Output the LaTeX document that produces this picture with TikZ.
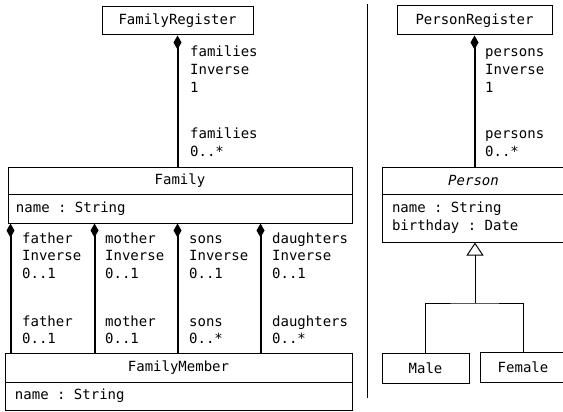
\documentclass[tikz,border=0pt]{standalone}
\usepackage{fontspec}
\setmainfont{DejaVu Sans Mono}
\usetikzlibrary{arrows.meta,calc}
\newcommand\monosp{\hspace*{0.602em}}
\begin{document}
\begin{tikzpicture}[x=1pt,y=-1pt,
  every node/.style={font=\fontsize{14}{18}\selectfont},
  box/.style={draw,line width=1pt,rectangle,inner sep=0pt,align=center},
  attr/.style={draw,line width=1pt,rectangle,inner xsep=8pt,inner ysep=0pt,align=left},
  lbl/.style={anchor=north west,inner sep=0pt,align=left},
  lbllow/.style={lbl,font=\fontsize{14}{17.5}\selectfont},
  compo/.style={line width=2pt,-{Diamond[length=14pt,width=8pt]}},
  gen/.style={line width=1pt},
  genarrow/.style={line width=1pt,-{Triangle[open,length=13pt,width=17pt]}}]
\useasboundingbox (0,0) rectangle (563,412);
\clip (0,0) rectangle (563,412);

% left part
\node[box,minimum width=151,minimum height=28] (famreg) at (177.5,21) {FamilyRegister};
\node[box,minimum width=344,minimum height=27] (fam) at (180,180.5) {Family};
\node[attr,text width=328pt,minimum height=29] (famattr) at (180,208.5) {name\monosp:\monosp String};
\node[box,minimum width=347,minimum height=29] (fm) at (178.5,367.5) {FamilyMember};
\node[attr,inner xsep=10pt,text width=327pt,minimum height=28] (fmattr) at (178.5,396) {name\monosp:\monosp String};

\draw[compo] (famreg.south |- fam.north) -- (famreg.south);
\node[lbl] (famS) at (190,43.4) {\strut families\\Inverse\\1};
\node[lbl] (famT) at (190,125.4) {\strut families\\0..*};

\coordinate (c1) at ([xshift=3pt]famattr.south west);
\coordinate (c2) at ([xshift=87pt]famattr.south west);
\coordinate (c3) at ([xshift=170pt]famattr.south west);
\coordinate (c4) at ([xshift=253pt]famattr.south west);
\draw[compo] (c1 |- fm.north) -- (c1);
\draw[compo] (c2 |- fm.north) -- (c2);
\draw[compo] (c3 |- fm.north) -- (c3);
\draw[compo] (c4 |- fm.north) -- (c4);

\node[lbllow] (faS) at (22,230.75) {\strut father\\Inverse\\0..1};
\node[lbllow] (faT) at (22,313.75) {\strut father\\0..1};
\node[lbllow] (moS) at (105,230.75) {\strut mother\\Inverse\\0..1};
\node[lbllow] (moT) at (105,313.75) {\strut mother\\0..1};
\node[lbllow] (soS) at (189,230.75) {\strut sons\\Inverse\\0..1};
\node[lbllow] (soT) at (189,313.75) {\strut sons\\0..*};
\node[lbllow] (daS) at (272,230.75) {\strut daughters\\Inverse\\0..1};
\node[lbllow] (daT) at (272,313.75) {\strut daughters\\0..*};

% separator
\draw[line width=1pt] (367,4) -- (367,398);

% right part
\node[box,minimum width=155,minimum height=29] (preg) at (474.5,20.5) {PersonRegister};
\node[box,minimum width=183,minimum height=27] (person) at (473.5,180.5) {\itshape Person};
\node[attr,inner xsep=10pt,text width=163pt,minimum height=48] (pattr) at (473.5,218) {name\monosp:\monosp String\\birthday\monosp:\monosp Date};
\node[box,minimum width=87,minimum height=30] (male) at (425.5,368) {Male};
\node[box,minimum width=86,minimum height=30] (female) at (523,367) {Female};

\draw[compo] (preg.south |- person.north) -- (preg.south);
\node[lbl] (peS) at (485,43.4) {\strut persons\\Inverse\\1};
\node[lbl] (peT) at (485,125.4) {\strut persons\\0..*};

\coordinate (gj) at (475,303);
\draw[gen] (male.north) |- (gj) -| (female.north);
\draw[genarrow] (gj) -- (gj |- pattr.south);
\end{tikzpicture}
\end{document}
